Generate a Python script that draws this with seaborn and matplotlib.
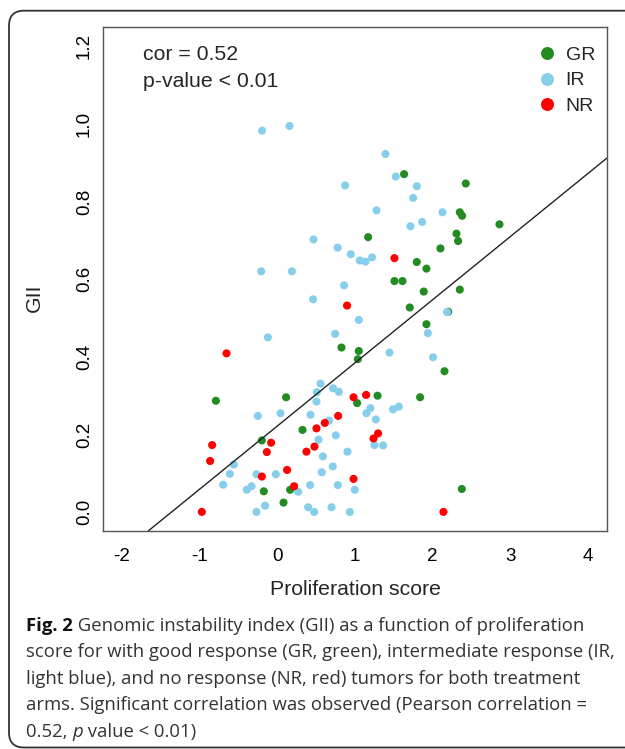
import numpy as np
import pandas as pd
import seaborn as sns
import matplotlib.pyplot as plt
from matplotlib.patches import FancyBboxPatch
from matplotlib.transforms import IdentityTransform

# values
gr_x = [1.169, 1.632, 2.426, 2.349, 2.379, 2.86, 2.306, 2.327, 2.10, 1.795, 1.92,
        1.508, 1.611, 1.885, 2.349, 1.705, 2.20, 0.826, 1.049, 1.036, 0.113, 1.027,
        1.29, -0.199, 0.324, -0.174, 0.165, 0.08, 1.92, 2.152, 1.838, 2.375, -0.791]
gr_y = [0.708, 0.870, 0.846, 0.772, 0.763, 0.741, 0.717, 0.698, 0.679, 0.644, 0.627,
        0.595, 0.595, 0.568, 0.573, 0.527, 0.516, 0.424, 0.415, 0.394, 0.296, 0.281,
        0.300, 0.185, 0.212, 0.054, 0.058, 0.025, 0.484, 0.363, 0.296, 0.060, 0.287]

ir_x = [-0.196, 0.157, 0.873, 1.277, 0.466, 0.777, 0.946, 1.062, 1.135, 1.22, -0.208,
        0.187, 0.860, 0.461, 1.049, 1.392, 1.525, 1.795, 1.748, 2.126, 1.864, 1.714,
        2.185, -0.122, 0.744, 0.556, 0.508, 0.718, 0.792, 0.504, 1.199, 1.148, 1.268,
        -0.251, 0.041, 0.427, 0.667, 0.530, 0.753, 1.251, 0.586, 0.903, 0.714, 0.573,
        -0.268, -0.019, -0.332, 0.268, 0.422, 0.779, 0.997, -0.157, -0.268, 0.397,
        0.474, 0.698, 0.933, 1.937, 1.444, 2.005, 1.49, 1.564, 1.362, -0.56, -0.611,
        -0.697, -0.393]
ir_y = [0.982, 0.994, 0.841, 0.777, 0.702, 0.681, 0.664, 0.648, 0.645, 0.656, 0.620,
        0.620, 0.584, 0.548, 0.495, 0.922, 0.864, 0.839, 0.809, 0.772, 0.747, 0.736,
        0.515, 0.450, 0.459, 0.331, 0.309, 0.319, 0.310, 0.285, 0.268, 0.255, 0.239,
        0.248, 0.255, 0.251, 0.236, 0.187, 0.198, 0.173, 0.144, 0.156, 0.118, 0.103,
        0.098, 0.098, 0.067, 0.053, 0.070, 0.070, 0.058, 0.017, 0.001, 0.013,
        0.001, 0.013, 0.001, 0.461, 0.411, 0.399, 0.265, 0.272, 0.172, 0.123, 0.099,
        0.071, 0.058]

nr_x = [0.898, 1.508, 0.981, 1.143, 0.783, 0.504, 0.611, 1.238, 1.297, -0.08, -0.135,
        0.375, 0.478, 0.126, -0.199, 0.216, 0.981, 2.139, -0.654, -0.839, -0.865, -0.972]
nr_y = [0.532, 0.654, 0.296, 0.302, 0.248, 0.216, 0.230, 0.190, 0.203, 0.179, 0.155,
        0.156, 0.169, 0.109, 0.092, 0.067, 0.086, 0.001, 0.409, 0.173, 0.132, 0.001]

groups = ['GR', 'IR', 'NR']
group_colors = ['#228B22', '#87CEEB', '#FF0000']

x_ticks = [-2, -1, 0, 1, 2, 3, 4]
y_ticks = [0.0, 0.2, 0.4, 0.6, 0.8, 1.0, 1.2]

fit_intercept = 0.222
fit_slope = 0.1625

stat_lines = ['cor = 0.52', 'p-value < 0.01']

caption = [
    ('Fig. 2', ' Genomic instability index (GII) as a function of proliferation'),
    ('', 'score for with good response (GR, green), intermediate response (IR,'),
    ('', 'light blue), and no response (NR, red) tumors for both treatment'),
    ('', 'arms. Significant correlation was observed (Pearson correlation ='),
]
caption_last = ['0.52, ', 'p', ' value < 0.01)']


df = pd.DataFrame({
    'score': gr_x + ir_x + nr_x,
    'gii': gr_y + ir_y + nr_y,
    'resp': ['GR'] * len(gr_x) + ['IR'] * len(ir_x) + ['NR'] * len(nr_x),
})

sns.set_style('white')
plt.rcParams['font.family'] = ['Liberation Sans', 'DejaVu Sans']
plt.rcParams['axes.unicode_minus'] = False

fig = plt.figure(figsize=(6.25, 7.49), dpi=100)
ax = fig.add_axes([0.1653, 0.2911, 0.8054, 0.6725])

sns.scatterplot(data=df, x='score', y='gii', hue='resp', hue_order=groups,
                palette=dict(zip(groups, group_colors)), s=34, linewidth=0, ax=ax)
ax.axline((0, fit_intercept), slope=fit_slope, color='#222222', lw=1.0)

ax.set_xlim(-2.24, 4.24)
ax.set_ylim(-0.048, 1.248)
ax.set_xticks(x_ticks)
ax.set_xticklabels([str(v) for v in x_ticks])
ax.set_yticks(y_ticks)
ax.set_yticklabels([f'{v:.1f}' for v in y_ticks], rotation=90, va='center')
ax.tick_params(direction='out', length=5.5, width=1, color='#555555',
               labelsize=13.5, labelcolor='black')
ax.tick_params(axis='x', pad=7)
ax.tick_params(axis='y', pad=2)
for sp in ax.spines.values():
    sp.set_visible(True)
    sp.set_color('#555555')
    sp.set_linewidth(1.0)

ax.set_xlabel('Proliferation score', fontsize=15.3)
ax.set_ylabel('GII', fontsize=15.3)
ax.xaxis.set_label_coords(0.5, -0.097)
ax.yaxis.set_label_coords(-0.118, 0.463)

ax.text(0.078, 0.945, stat_lines[0], transform=ax.transAxes, fontsize=15.3, va='center')
ax.text(0.078, 0.892, stat_lines[1], transform=ax.transAxes, fontsize=15.3, va='center')

sns.move_legend(ax, 'upper right', bbox_to_anchor=(0.977, 0.962), frameon=False,
                title=None, fontsize=14, markerscale=1.6, handlelength=1.0,
                handletextpad=0.48, labelspacing=0.4, borderaxespad=0, borderpad=0)

# rounded frame around the panel
frame = FancyBboxPatch((9, 1.5), 660, 736.8, boxstyle='round,pad=0,rounding_size=15',
                       transform=IdentityTransform(), fill=False, ec='#333333', lw=1.3)
fig.add_artist(frame)

# caption
cap_font = ['Open Sans', 'DejaVu Sans']
cap_size = 13.3
baselines = [631, 657, 684, 710, 737]
renderer = fig.canvas.get_renderer()
x0 = 26 / 625
for (bold, rest), b in zip(caption, baselines):
    yb = 1 - b / 749
    x = x0
    if bold:
        t = fig.text(x, yb, bold, fontsize=cap_size, family=cap_font, weight='bold',
                     color='#111111', va='baseline')
        bb = t.get_window_extent(renderer)
        x = bb.x1 / 625
    fig.text(x, yb, rest, fontsize=cap_size, family=cap_font, color='#333333', va='baseline')

yb = 1 - baselines[4] / 749
x = x0
for piece, style in zip(caption_last, ['normal', 'italic', 'normal']):
    t = fig.text(x, yb, piece, fontsize=cap_size, family=cap_font, style=style,
                 color='#333333', va='baseline')
    x = t.get_window_extent(renderer).x1 / 625

fig.savefig('out.png', dpi=100)
